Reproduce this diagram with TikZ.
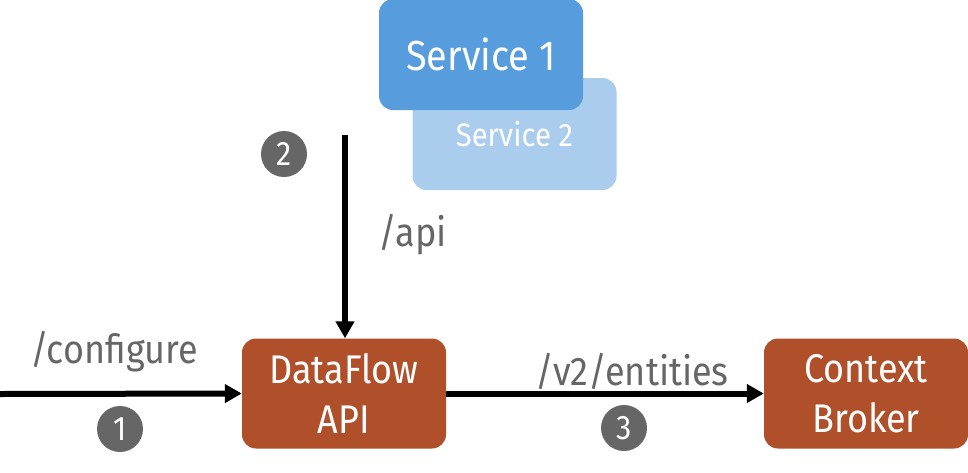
\documentclass[tikz,border=0pt]{standalone}
\usepackage{fontspec}
\setmainfont{Fira Sans}[FakeStretch=0.9]
\usetikzlibrary{arrows.meta}
\definecolor{svcone}{HTML}{579CDC}
\definecolor{svctwo}{HTML}{AACDEE}
\definecolor{rust}{HTML}{B0502A}
\definecolor{greyc}{HTML}{666666}
\tikzset{
  box/.style={draw=none, rounded corners=14pt, minimum width=204pt, minimum height=110pt, inner sep=0pt, align=center, text=white},
  step circ/.style={circle, fill=greyc, text=white, minimum size=46pt, inner sep=0pt, font=\fontsize{34}{34}\selectfont},
  lbl/.style={text=greyc, font=\fontsize{40}{40}\selectfont, inner sep=0pt},
  conn/.style={line width=6pt, -{Triangle[length=17pt,width=18pt]}}
}
\begin{document}
\begin{tikzpicture}[x=1pt,y=-1pt]
\useasboundingbox (0,0) rectangle (968,472);
\node[box, fill=svctwo, minimum width=204pt, minimum height=112pt, font=\fontsize{32.5}{32.5}\selectfont] (s2) at (514.5,134) {Service 2};
\node[box, fill=svcone, minimum width=204pt, minimum height=111pt, font=\fontsize{42}{42}\selectfont] (s1) at (481,54.5) {Service 1};
\node[box, fill=rust, font=\fontsize{40}{50}\selectfont] (df) at (344,393.5) {DataFlow\\API};
\node[box, fill=rust, font=\fontsize{40}{50}\selectfont] (cb) at (866,393.5) {Context\\Broker};
\coordinate (src) at (0,394);
\coordinate (top) at (345,135);
\draw[conn] (src) -- (df.west);
\draw[conn] (top) -- (top |- df.north);
\draw[conn] (df.east) -- (cb.west);
\node[lbl] (lcfg) at (114,352) {/configure};
\node[lbl] (lapi) at (413,235) {/api};
\node[lbl] (lent) at (632,371) {/v2/entities};
\node[step circ] (c1) at (120,429) {1};
\node[step circ] (c2) at (284,154) {2};
\node[step circ] (c3) at (624,428) {3};
\end{tikzpicture}
\end{document}
